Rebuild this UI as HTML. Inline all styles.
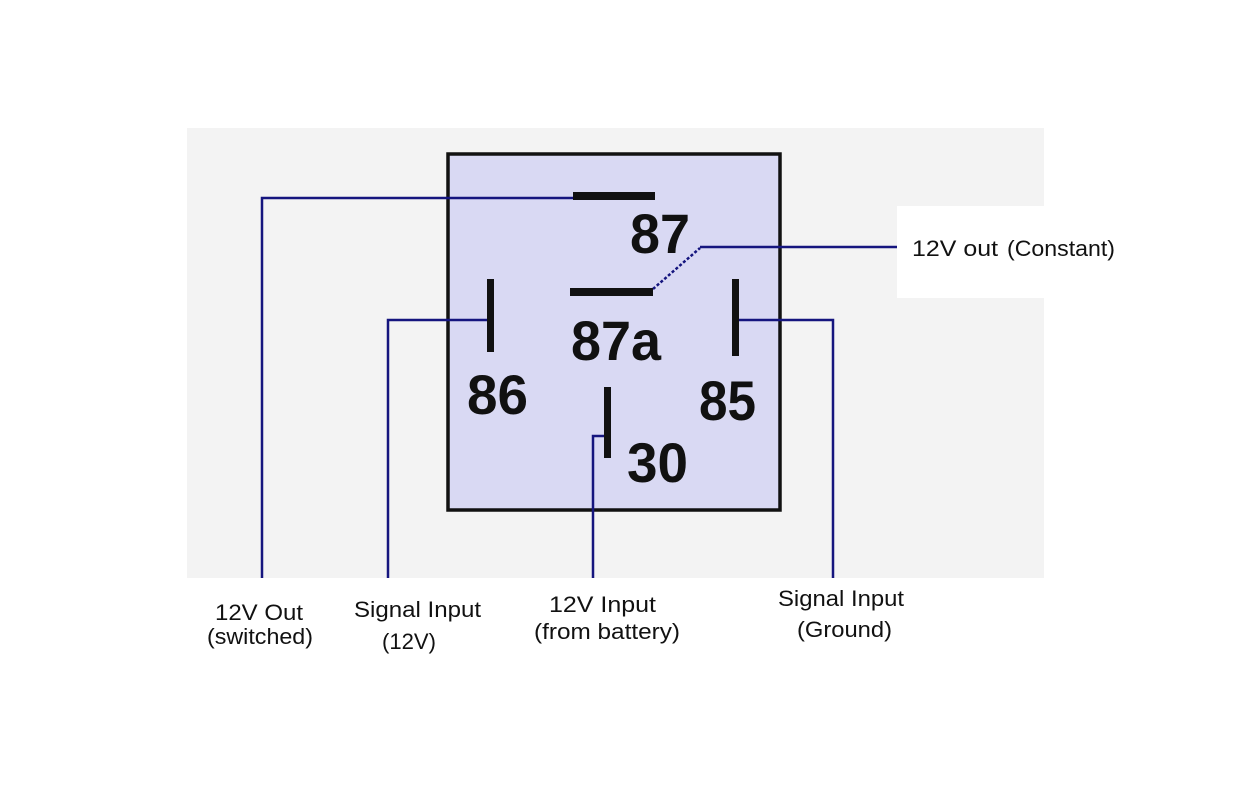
<!DOCTYPE html>
<html><head><meta charset="utf-8"><style>html,body{margin:0;padding:0;background:#fff}svg{display:block}</style></head>
<body>
<svg width="1248" height="787" xmlns="http://www.w3.org/2000/svg" font-family="Liberation Sans, sans-serif">
<rect x="187" y="128" width="857" height="450" fill="#f3f3f3"/>
<rect x="448" y="154" width="332" height="356" fill="#d9d9f3" stroke="#111" stroke-width="3.5"/>
<rect x="897" y="206" width="147" height="92" fill="#fff"/>
<g stroke="#15157e" stroke-width="2.5" fill="none">
<polyline points="262,578 262,198 575,198"/>
<polyline points="388,578 388,320 489,320"/>
<polyline points="833,578 833,320 737,320"/>
<polyline points="593,578 593,436 606,436"/>
<line x1="700" y1="247" x2="897" y2="247"/>
<line x1="653" y1="289" x2="700" y2="248" stroke-dasharray="3,2"/>
</g>
<g fill="#111">
<rect x="573" y="192" width="82" height="8"/>
<rect x="570" y="288" width="83" height="8"/>
<rect x="487" y="279" width="7" height="73"/>
<rect x="732" y="279" width="7" height="77"/>
<rect x="604" y="387" width="7" height="71"/>
</g>
<g font-weight="bold" font-size="56" fill="#111">
<text x="630" y="253" textLength="60" lengthAdjust="spacingAndGlyphs">87</text>
<text x="571" y="360" textLength="90" lengthAdjust="spacingAndGlyphs">87a</text>
<text x="467" y="414" textLength="61" lengthAdjust="spacingAndGlyphs">86</text>
<text x="699" y="420" textLength="57" lengthAdjust="spacingAndGlyphs">85</text>
<text x="627" y="482" textLength="61" lengthAdjust="spacingAndGlyphs">30</text>
</g>
<g font-size="22" fill="#111">
<text x="912" y="256" textLength="86" lengthAdjust="spacingAndGlyphs">12V out</text>
<text x="1007" y="256" textLength="108" lengthAdjust="spacingAndGlyphs">(Constant)</text>
<text x="215" y="620" textLength="88" lengthAdjust="spacingAndGlyphs">12V Out</text>
<text x="207" y="644" textLength="106" lengthAdjust="spacingAndGlyphs">(switched)</text>
<text x="354" y="617" textLength="127" lengthAdjust="spacingAndGlyphs">Signal Input</text>
<text x="382" y="649" textLength="54" lengthAdjust="spacingAndGlyphs">(12V)</text>
<text x="549" y="612" textLength="107" lengthAdjust="spacingAndGlyphs">12V Input</text>
<text x="534" y="639" textLength="146" lengthAdjust="spacingAndGlyphs">(from battery)</text>
<text x="778" y="606" textLength="126" lengthAdjust="spacingAndGlyphs">Signal Input</text>
<text x="797" y="637" textLength="95" lengthAdjust="spacingAndGlyphs">(Ground)</text>
</g>
</svg>
</body></html>
